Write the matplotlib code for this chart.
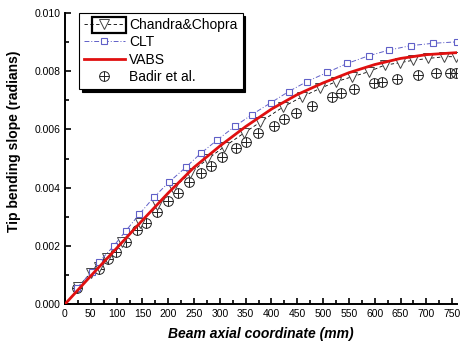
import matplotlib
matplotlib.use("Agg")
import matplotlib.pyplot as plt
import numpy as np
from matplotlib.ticker import MultipleLocator, FormatStrFormatter
from matplotlib.legend_handler import HandlerTuple
from matplotlib.patches import Rectangle

plt.rcParams['font.family'] = ['Liberation Sans', 'DejaVu Sans']

# Chandra & Chopra (triangles)
chandra_x = [25, 50, 66, 81, 110, 145, 178, 210, 242, 275, 308, 346, 378, 423,
             459, 494, 525, 556, 588, 619, 648, 675, 704, 735, 758]
chandra_y = [0.00058, 0.00108, 0.00128, 0.00160, 0.00215, 0.00280, 0.00340,
             0.00398, 0.00449, 0.00497, 0.00540, 0.00587, 0.00625, 0.00678,
             0.00712, 0.00741, 0.00764, 0.00781, 0.00798, 0.00821, 0.00829,
             0.00838, 0.00844, 0.00850, 0.00850]

# CLT
clt_x = [24, 52, 66, 94, 118, 144, 172, 202, 234, 263, 295, 330, 362, 399,
         433, 468, 508, 547, 588, 628, 670, 713, 759]
clt_y = [0.00057, 0.00111, 0.00145, 0.00199, 0.00252, 0.00309, 0.00367,
         0.00420, 0.00470, 0.00518, 0.00564, 0.00612, 0.00651, 0.00692,
         0.00730, 0.00764, 0.00796, 0.00827, 0.00853, 0.00873, 0.00888,
         0.00896, 0.00901]

# VABS
vabs_x = [0, 50, 100, 150, 200, 250, 300, 350, 400, 450, 500, 550, 600, 650,
          700, 760]
vabs_y = [0.0, 0.00097, 0.00192, 0.00288, 0.00382, 0.00470, 0.00543, 0.00610,
          0.00670, 0.00720, 0.00760, 0.00795, 0.00823, 0.00844, 0.00857,
          0.00864]

# Badir et al.
badir_x = [24, 66, 84, 99, 118, 140, 157, 178, 199, 218, 241, 263, 282, 305,
           331, 351, 374, 405, 424, 448, 478, 517, 534, 560, 599, 615, 643,
           683, 718, 746, 758]
badir_y = [0.00056, 0.00120, 0.00154, 0.00180, 0.00213, 0.00254, 0.00279,
           0.00317, 0.00355, 0.00383, 0.00420, 0.00451, 0.00474, 0.00506,
           0.00535, 0.00558, 0.00589, 0.00612, 0.00635, 0.00657, 0.00680,
           0.00712, 0.00724, 0.00738, 0.00758, 0.00764, 0.00772, 0.00787,
           0.00795, 0.00795, 0.00795]

fig = plt.figure(figsize=(4.71, 3.52), dpi=100)
ax = fig.add_axes([0.138, 0.136, 0.833, 0.827])

h_ch, = ax.plot(chandra_x, chandra_y, color='black', ls=(0, (4, 3)), lw=0.6,
                marker='v', ms=6.5, mfc='white', mec='#444444', mew=0.7,
                label='Chandra&Chopra', zorder=3)
h_clt, = ax.plot(clt_x, clt_y, color='#6060c8', ls=(0, (5, 2, 1, 2)), lw=0.7,
                 marker='s', ms=5, mfc='white', mec='#6060c8', mew=0.8,
                 label='CLT', zorder=3)
h_v, = ax.plot(vabs_x, vabs_y, color='#e01010', lw=2.0, label='VABS',
               zorder=4)
h_b1, = ax.plot(badir_x, badir_y, ls='none', marker='o', ms=7, mfc='none',
                mec='#222222', mew=0.7, zorder=2)
h_b2, = ax.plot(badir_x, badir_y, ls='none', marker='+', ms=7,
                mec='#222222', mew=0.7, zorder=2)

ax.set_xlim(0, 760)
ax.set_ylim(0, 0.010)
ax.xaxis.set_major_locator(MultipleLocator(50))
ax.xaxis.set_minor_locator(MultipleLocator(25))
ax.yaxis.set_major_locator(MultipleLocator(0.002))
ax.yaxis.set_minor_locator(MultipleLocator(0.001))
ax.yaxis.set_major_formatter(FormatStrFormatter('%.3f'))
ax.tick_params(which='both', direction='in', width=1.2, labelsize=7.5,
               top=False, right=False)
ax.tick_params(which='major', length=4.5)
ax.tick_params(which='minor', length=3)
for s in ['top', 'right']:
    ax.spines[s].set_visible(False)
for s in ['left', 'bottom']:
    ax.spines[s].set_linewidth(1.4)

ax.set_xlabel('Beam axial coordinate (mm)', fontsize=10, fontweight='bold',
              style='italic', labelpad=6)
ax.set_ylabel('Tip bending slope (radians)', fontsize=10, fontweight='bold')
ax.yaxis.set_label_coords(-0.113, 0.56)

leg = ax.legend([h_ch, h_clt, h_v, (h_b1, h_b2)],
                ['Chandra&Chopra', 'CLT', 'VABS', 'Badir et al.'],
                handler_map={tuple: HandlerTuple(ndivide=1, pad=0)},
                loc='upper left', bbox_to_anchor=(0.035, 1.0),
                borderaxespad=0, fontsize=10, frameon=True, fancybox=False,
                edgecolor='black', handlelength=3.0, handletextpad=0.3,
                labelspacing=0.25, borderpad=0.35,
                shadow={'color': 'black', 'alpha': 1.0})
leg.get_frame().set_linewidth(0.8)

# selection box drawn around the first legend handle (as in the source image)
fig.canvas.draw()
r = fig.canvas.get_renderer()
tb = leg.get_texts()[0].get_window_extent(r)
W, H = fig.bbox.width, fig.bbox.height
x1 = tb.x0 - 3
x0 = x1 - 34
fig.add_artist(Rectangle((x0 / W, (tb.y0 - 1) / H), 34 / W, (tb.height + 2) / H,
                         transform=fig.transFigure, fill=False,
                         edgecolor='black', linewidth=1.6, zorder=10))

fig.savefig('out.png', dpi=100)
